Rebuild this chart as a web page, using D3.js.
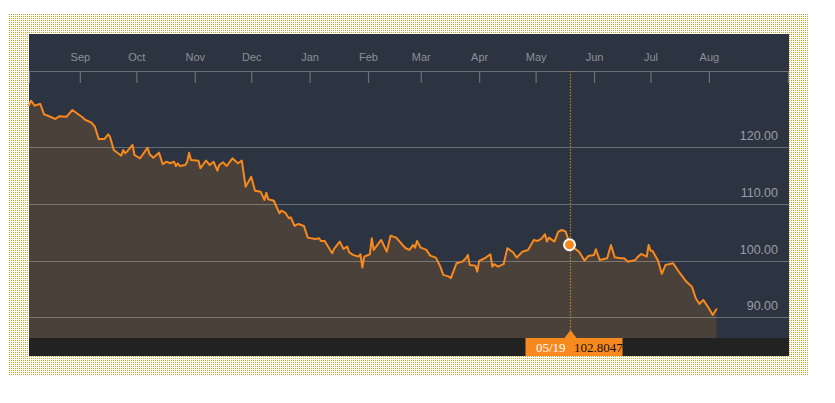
<!DOCTYPE html>
<html>
<head>
<meta charset="utf-8">
<script src="https://cdn.jsdelivr.net/npm/d3@7"></script>
<style>
  html, body { margin: 0; padding: 0; background: #ffffff; }
  svg { display: block; }
</style>
</head>
<body>
<svg id="chart" width="835" height="403"></svg>
<script>
// ---- data ----
const dates = [
"2014-08-05","2014-08-06","2014-08-08","2014-08-10","2014-08-11","2014-08-13","2014-08-15","2014-08-19","2014-08-21","2014-08-25",
"2014-08-28","2014-09-02","2014-09-04","2014-09-07","2014-09-09","2014-09-11","2014-09-14","2014-09-16","2014-09-17","2014-09-19",
"2014-09-23","2014-09-24","2014-09-25","2014-09-26","2014-09-29","2014-09-30","2014-10-03","2014-10-07","2014-10-08","2014-10-10",
"2014-10-13","2014-10-15","2014-10-17","2014-10-19","2014-10-21","2014-10-22","2014-10-23","2014-10-24","2014-10-27","2014-10-28",
"2014-10-29","2014-10-30","2014-11-03","2014-11-04","2014-11-07","2014-11-09","2014-11-11","2014-11-13","2014-11-14","2014-11-16",
"2014-11-18","2014-11-21","2014-11-23","2014-11-24","2014-11-26","2014-11-28","2014-12-01","2014-12-03","2014-12-06","2014-12-08",
"2014-12-09","2014-12-10","2014-12-13","2014-12-14","2014-12-16","2014-12-17","2014-12-19","2014-12-21","2014-12-22","2014-12-24",
"2014-12-26","2014-12-29","2014-12-31","2015-01-04","2015-01-06","2015-01-07","2015-01-09","2015-01-13","2015-01-14","2015-01-17",
"2015-01-19","2015-01-21","2015-01-22","2015-01-24","2015-01-27","2015-01-28","2015-01-29","2015-01-30","2015-02-02","2015-02-03",
"2015-02-04","2015-02-08","2015-02-11","2015-02-13","2015-02-16","2015-02-19","2015-02-21","2015-02-23","2015-02-25","2015-02-26",
"2015-02-27","2015-03-01","2015-03-04","2015-03-06","2015-03-09","2015-03-11","2015-03-13","2015-03-16","2015-03-17","2015-03-20",
"2015-03-23","2015-03-25","2015-03-26","2015-03-27","2015-03-30","2015-03-31","2015-04-01","2015-04-04","2015-04-07","2015-04-08",
"2015-04-09","2015-04-11","2015-04-14","2015-04-16","2015-04-19","2015-04-21","2015-04-24","2015-04-27","2015-04-30","2015-05-02",
"2015-05-04","2015-05-06","2015-05-07","2015-05-08","2015-05-11","2015-05-13","2015-05-15","2015-05-17","2015-05-18","2015-05-19",
"2015-05-24","2015-05-27","2015-05-29","2015-06-01","2015-06-02","2015-06-04","2015-06-08","2015-06-10","2015-06-12","2015-06-15",
"2015-06-17","2015-06-19","2015-06-23","2015-06-24","2015-06-26","2015-06-29","2015-06-30","2015-07-01","2015-07-02","2015-07-05",
"2015-07-07","2015-07-09","2015-07-13","2015-07-16","2015-07-18","2015-07-20","2015-07-23","2015-07-25","2015-07-27","2015-07-29",
"2015-08-01","2015-08-03","2015-08-05"
];
const values = [
127.46,128.22,127.34,127.58,127.64,125.82,125.57,124.99,125.47,125.40,
126.58,125.40,124.81,124.41,123.63,121.46,121.46,122.29,121.87,119.52,
118.52,119.52,118.94,119.22,120.41,118.64,118.06,119.93,118.77,118.17,
119.05,117.00,117.46,117.18,117.46,116.70,117.18,116.70,116.88,117.46,
119.05,117.76,117.64,116.30,117.64,116.88,117.46,115.87,116.88,117.35,
116.70,118.06,117.46,117.18,117.64,113.05,114.81,112.35,112.17,110.71,
111.99,110.83,110.58,109.82,108.36,108.82,108.47,107.48,107.65,106.12,
106.47,106.12,104.06,103.83,103.95,103.47,103.47,101.31,102.06,103.35,
102.06,102.47,101.48,101.01,100.71,101.13,98.77,100.71,101.13,103.95,
101.89,103.65,101.59,104.41,104.06,102.89,102.19,101.89,102.77,102.29,
103.47,102.29,101.89,100.88,100.53,99.24,97.48,97.18,96.90,99.54,
99.82,100.42,101.01,99.24,99.12,98.06,99.95,100.42,101.13,98.94,
99.37,98.94,99.37,102.19,101.48,100.53,101.59,101.89,103.65,103.47,
103.83,104.66,103.35,104.06,103.35,105.11,105.41,105.11,104.06,102.8047,
101.59,100.00,100.83,101.01,102.01,100.12,100.42,102.77,100.60,100.42,
100.42,99.82,100.12,100.60,101.18,100.71,102.77,101.76,101.76,100.00,
97.65,99.24,99.54,98.06,97.18,96.30,95.41,93.37,92.36,93.07,
91.60,90.42,91.43
];
const xDomain = ["2014-08-05", "2015-09-12"];
const monthTicks = ["2014-09-01","2014-10-01","2014-11-01","2014-12-01","2015-01-01","2015-02-01",
                    "2015-03-01","2015-04-01","2015-05-01","2015-06-01","2015-07-01","2015-08-01"];
const yTicks = [90, 100, 110, 120];
const hoverDate = "2015-05-19";

// ---- setup ----
const parse = d3.timeParse("%Y-%m-%d");
const data = dates.map((d, i) => ({ date: parse(d), value: values[i] }));

const svg = d3.select("#chart");
const panel = { x0: 29, y0: 34, x1: 789, y1: 356 };
const plotBottom = 338;
const axisY = 71;
const orange = "#f7891f";

// dotted orange backdrop
const defs = svg.append("defs");
const pat = defs.append("pattern").attr("id", "dots")
  .attr("patternUnits", "userSpaceOnUse").attr("x", 1).attr("y", 0)
  .attr("width", 2).attr("height", 2);
pat.append("rect").attr("x", 0).attr("y", 0).attr("width", 1).attr("height", 1).attr("fill", "#f7941d");

svg.append("rect").attr("x", 9).attr("y", 14).attr("width", 799).attr("height", 361).attr("fill", "url(#dots)");
svg.append("rect").attr("x", panel.x0).attr("y", panel.y0)
  .attr("width", panel.x1 - panel.x0).attr("height", panel.y1 - panel.y0).attr("fill", "#2b3440");

const x = d3.scaleTime()
  .domain(xDomain.map(parse))
  .range([panel.x0, panel.x1 - 1]);
const y = d3.scaleLinear().domain([90, 120]).range([317.3, 147.3]);

// area
const area = d3.area().x(d => x(d.date)).y0(plotBottom).y1(d => y(d.value));
svg.append("path").datum(data).attr("d", area).attr("fill", "#4a413a");

// gridlines
svg.append("g").selectAll("line").data(yTicks).join("line")
  .attr("x1", panel.x0).attr("x2", panel.x1)
  .attr("y1", d => Math.round(y(d)) + 0.5).attr("y2", d => Math.round(y(d)) + 0.5)
  .attr("stroke", "#ffffff").attr("stroke-opacity", 0.28).attr("stroke-width", 1);

// y labels
svg.append("g").selectAll("text").data(yTicks).join("text")
  .attr("x", 778).attr("y", d => y(d) - 7)
  .attr("text-anchor", "end")
  .attr("font-family", "'Liberation Sans', Arial, Helvetica, sans-serif")
  .attr("font-size", "12.5px").attr("fill", "#9a9ea4")
  .text(d => d3.format(".2f")(d));

// line
const line = d3.line().x(d => x(d.date)).y(d => y(d.value));
svg.append("path").datum(data).attr("d", line)
  .attr("fill", "none").attr("stroke", orange).attr("stroke-width", 2)
  .attr("stroke-linejoin", "round").attr("stroke-linecap", "round");

// bottom bar
svg.append("rect").attr("x", panel.x0).attr("y", plotBottom)
  .attr("width", panel.x1 - panel.x0).attr("height", panel.y1 - plotBottom).attr("fill", "#222222");

// top month axis
const axis = d3.axisBottom(x)
  .tickValues(monthTicks.map(parse))
  .tickFormat(d3.timeFormat("%b"))
  .tickSize(12).tickSizeOuter(12);
const gAxis = svg.append("g").attr("transform", `translate(0,${axisY})`).call(axis);
gAxis.select(".domain").attr("stroke", "#6c7076").attr("stroke-width", 1.2);
gAxis.selectAll(".tick line").attr("stroke", "#6c7076").attr("stroke-width", 1.2);
gAxis.selectAll(".tick text")
  .attr("y", -10).attr("dy", 0)
  .attr("font-family", "'Liberation Sans', Arial, Helvetica, sans-serif")
  .attr("font-size", "11px").attr("fill", "#8b9096");

// hover marker
const hd = parse(hoverDate);
const hp = data.find(d => +d.date === +hd);
const hx = Math.round(x(hp.date)) + 0.5;
svg.append("line").attr("x1", hx).attr("x2", hx).attr("y1", axisY).attr("y2", plotBottom - 8)
  .attr("stroke", "#b0842a").attr("stroke-width", 1.3).attr("stroke-dasharray", "1.5,1.5");
svg.append("circle").attr("cx", x(hp.date)).attr("cy", y(hp.value)).attr("r", 5.5)
  .attr("fill", orange).attr("stroke", "#ffffff").attr("stroke-width", 2);

// tooltip
const tipG = svg.append("g");
const tri = d3.path();
tri.moveTo(hx - 6, plotBottom); tri.lineTo(hx, plotBottom - 8); tri.lineTo(hx + 6, plotBottom); tri.closePath();
tipG.append("path").attr("d", tri.toString()).attr("fill", orange);
tipG.append("rect").attr("x", hx - 45).attr("y", plotBottom).attr("width", 97).attr("height", panel.y1 - plotBottom)
  .attr("fill", orange);
tipG.append("text").attr("x", hx - 34.5).attr("y", 352)
  .attr("font-family", "'Liberation Serif', 'Times New Roman', serif").attr("font-size", "13px")
  .attr("fill", "#ffffff").text(d3.timeFormat("%m/%d")(hp.date));
tipG.append("text").attr("x", hx + 3.5).attr("y", 352)
  .attr("font-family", "'Liberation Serif', 'Times New Roman', serif").attr("font-size", "13px")
  .attr("fill", "#111111").text(d3.format(".4f")(hp.value));
</script>
</body>
</html>
